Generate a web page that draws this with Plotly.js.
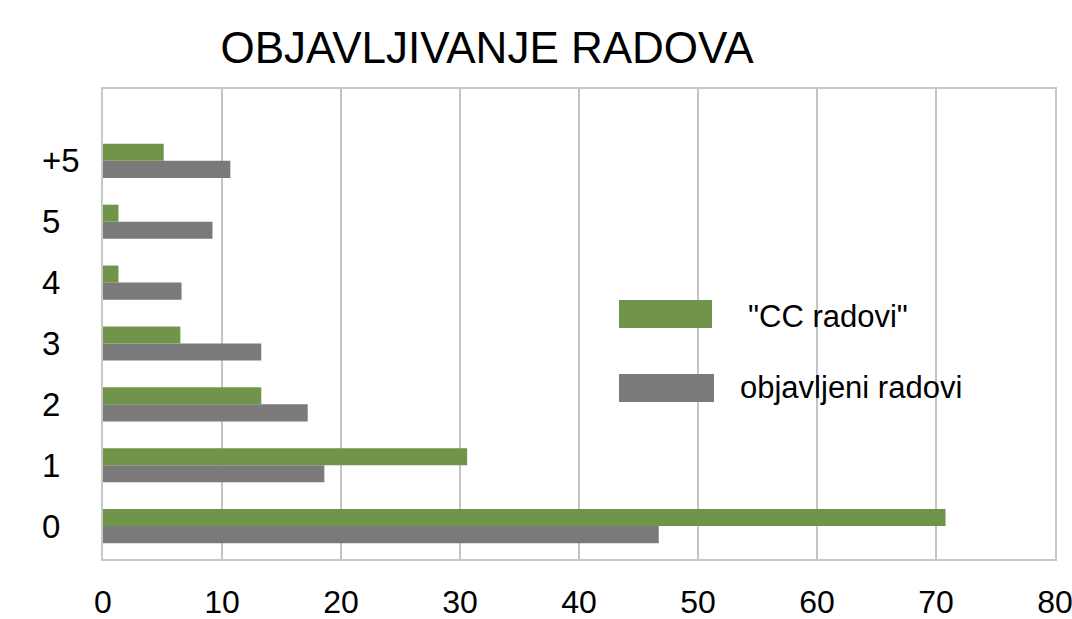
<!DOCTYPE html>
<html>
<head>
<meta charset="utf-8">
<script src="https://cdn.plot.ly/plotly-3.0.1.min.js"></script>
<style>html,body{margin:0;padding:0;background:#fff;}#chart{width:1072px;height:619px;}</style>
</head>
<body>
<div id="chart"></div>
<script>
const categories = ["0", "1", "2", "3", "4", "5", "+5"];
const ccRadovi = [70.8, 30.6, 13.3, 6.5, 1.3, 1.3, 5.1];
const objavljeniRadovi = [46.7, 18.6, 17.2, 13.3, 6.6, 9.2, 10.7];
const seriesNames = ["\"CC radovi\"", "objavljeni radovi"];
const xTicks = [0, 10, 20, 30, 40, 50, 60, 70, 80];

const FONT = "Liberation Sans, Arial, sans-serif";
const GREEN = "#70944a";
const GRAY = "#7a7a7a";

const L = 103, R = 17, T = 89, B = 60;
const W = 1072 - L - R, H = 619 - T - B;
const px2x = p => (p - L) / W;
const py2y = p => (619 - B - p) / H;

const traces = [
  {type: "bar", orientation: "h", name: seriesNames[1], y: categories, x: objavljeniRadovi,
   marker: {color: GRAY}, showlegend: false, hoverinfo: "x"},
  {type: "bar", orientation: "h", name: seriesNames[0], y: categories, x: ccRadovi,
   marker: {color: GREEN}, showlegend: false, hoverinfo: "x"}
];

const annotations = categories.map((c, i) => ({
  x: px2x(40), xref: "paper", xanchor: "left",
  y: i, yref: "y", yanchor: "middle",
  text: c, showarrow: false,
  font: {family: FONT, size: 33, color: "#000"}
}));
annotations.push(
  {x: px2x(746), xref: "paper", xanchor: "left", y: py2y(316), yref: "paper", yanchor: "middle",
   text: seriesNames[0], showarrow: false, font: {family: FONT, size: 31, color: "#000"}},
  {x: px2x(738), xref: "paper", xanchor: "left", y: py2y(387), yref: "paper", yanchor: "middle",
   text: seriesNames[1], showarrow: false, font: {family: FONT, size: 31, color: "#000"}}
);

const shapes = [
  {type: "rect", xref: "paper", yref: "paper", x0: px2x(619), x1: px2x(712), y0: py2y(328), y1: py2y(300),
   fillcolor: GREEN, line: {width: 0}},
  {type: "rect", xref: "paper", yref: "paper", x0: px2x(619), x1: px2x(714), y0: py2y(402), y1: py2y(374),
   fillcolor: GRAY, line: {width: 0}}
];

const layout = {
  width: 1072, height: 619,
  margin: {l: L, r: R, t: T, b: B, pad: 0},
  paper_bgcolor: "#fff", plot_bgcolor: "#fff",
  title: {text: "OBJAVLJIVANJE RADOVA", xref: "container", yref: "container",
          x: 487 / 1072, xanchor: "center", y: 1 - 48 / 619, yanchor: "middle",
          font: {family: FONT, size: 44, color: "#000"}},
  barmode: "group", bargap: 0.44, bargroupgap: 0,
  xaxis: {range: [0, 80], tickvals: xTicks, ticktext: xTicks.map(String),
          showgrid: true, gridcolor: "#c4c4c4", gridwidth: 2,
          showline: true, linecolor: "#c8c8c8", linewidth: 2, mirror: true,
          zeroline: false, ticks: "", ticklabelstandoff: 14, ticklabeloverflow: "allow",
          tickfont: {family: FONT, size: 32, color: "#000"}, fixedrange: true},
  yaxis: {type: "category", categoryorder: "array", categoryarray: categories,
          range: [-0.54, 7.18], showticklabels: false, showgrid: false,
          showline: true, linecolor: "#c8c8c8", linewidth: 2, mirror: true,
          zeroline: false, ticks: "", fixedrange: true},
  annotations: annotations,
  shapes: shapes,
  showlegend: false
};

Plotly.newPlot("chart", traces, layout, {displayModeBar: false, staticPlot: true});
</script>
</body>
</html>
